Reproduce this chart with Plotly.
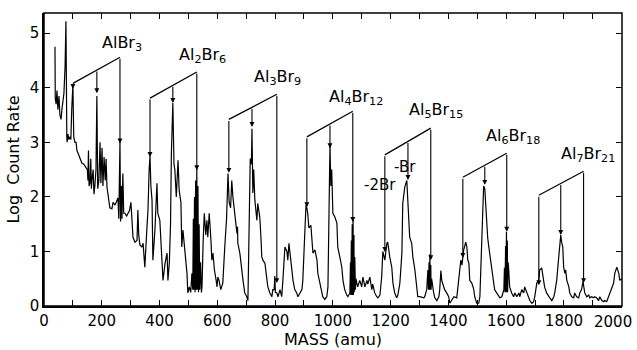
import plotly.graph_objects as go

# ---- spectrum (mass in amu, log count rate) ----
mass = [38, 39, 42, 45, 48, 52, 55, 59, 62, 69, 73, 76, 79, 80, 83, 86, 90, 93, 96, 100,
        103, 107, 111, 114, 118, 125, 131, 138, 145, 150, 152, 154, 156, 159, 162, 164, 166, 170, 173, 176,
        180, 183, 186, 190, 194, 197, 201, 204, 208, 212, 215, 218, 223, 228, 235, 239, 246, 253, 256, 259,
        261, 263, 265, 268, 270, 273, 276, 280, 286, 291, 296, 301, 305, 308, 315, 322, 325, 328, 332, 339,
        343, 349, 356, 360, 364, 367, 370, 374, 377, 384, 391, 394, 401, 408, 412, 419, 426, 429, 434, 438,
        441, 446, 450, 453, 458, 464, 468, 474, 477, 481, 488, 495, 498, 503, 508, 512, 515, 517, 519, 521,
        523, 525, 527, 529, 531, 533, 535, 537, 539, 542, 545, 547, 551, 555, 560, 564, 567, 572, 578, 581,
        585, 590, 596, 599, 602, 606, 612, 619, 626, 632, 637, 641, 646, 650, 654, 661, 668, 670, 671, 678,
        685, 689, 695, 702, 706, 710, 714, 718, 720, 723, 726, 730, 734, 737, 740, 747, 751, 754, 758, 765,
        772, 775, 782, 789, 792, 797, 799, 801, 806, 810, 817, 823, 827, 834, 841, 844, 848, 855, 858, 862,
        868, 875, 879, 886, 893, 896, 900, 903, 907, 910, 913, 917, 924, 927, 931, 938, 945, 948, 955, 962,
        965, 972, 979, 983, 986, 990, 993, 996, 1000, 1007, 1014, 1017, 1024, 1031, 1035, 1041, 1048, 1052, 1059, 1061,
        1062, 1064, 1065, 1067, 1068, 1070, 1071, 1073, 1074, 1076, 1078, 1080, 1083, 1086, 1093, 1100, 1104, 1111, 1118, 1121,
        1128, 1135, 1138, 1145, 1152, 1156, 1163, 1169, 1173, 1176, 1180, 1187, 1190, 1197, 1204, 1208, 1214, 1221, 1225, 1232,
        1239, 1242, 1249, 1256, 1259, 1266, 1273, 1277, 1284, 1291, 1294, 1301, 1315, 1318, 1325, 1329, 1331, 1333, 1334, 1336,
        1337, 1339, 1340, 1342, 1349, 1353, 1360, 1367, 1370, 1374, 1377, 1381, 1387, 1394, 1401, 1405, 1412, 1419, 1429, 1436,
        1439, 1443, 1447, 1450, 1453, 1460, 1464, 1467, 1471, 1474, 1481, 1488, 1491, 1498, 1505, 1509, 1515, 1519, 1522, 1526,
        1529, 1533, 1536, 1540, 1543, 1550, 1557, 1560, 1567, 1574, 1578, 1585, 1592, 1594, 1596, 1598, 1599, 1601, 1602, 1604,
        1605, 1607, 1609, 1612, 1619, 1626, 1630, 1637, 1644, 1647, 1654, 1661, 1664, 1671, 1678, 1682, 1689, 1695, 1699, 1706,
        1713, 1716, 1723, 1727, 1730, 1733, 1740, 1747, 1751, 1758, 1765, 1768, 1775, 1782, 1785, 1789, 1792, 1796, 1799, 1803,
        1806, 1810, 1817, 1820, 1827, 1834, 1837, 1844, 1851, 1855, 1861, 1866, 1868, 1870, 1872, 1879, 1886, 1889, 1896, 1903,
        1906, 1913, 1920, 1924, 1931, 1938, 1941, 1948, 1955, 1958, 1965, 1972, 1976, 1983, 1990, 1993, 2000]
log_rate = [4.75, 3.8, 3.7, 3.95, 3.6, 3.85, 3.5, 3.42, 3.6, 3.9, 4.4, 5.22, 3.1, 3.0, 3.15, 3.05, 3.1, 3.05, 3.6, 4.05,
            3.1, 3.0, 3.0, 2.85, 2.8, 2.68, 2.62, 2.6, 2.55, 2.5, 2.3, 2.85, 2.2, 2.25, 2.7, 2.15, 2.3, 2.5, 2.05, 2.2,
            2.5, 3.85, 2.15, 2.3, 3.0, 2.25, 2.9, 2.2, 2.73, 2.3, 2.7, 2.18, 2.0, 1.8, 1.78, 1.9, 1.85, 1.93, 1.98, 1.6,
            2.6, 3.02, 1.55, 2.2, 1.6, 2.43, 1.7, 1.7, 1.65, 1.7, 1.75, 1.9, 1.5, 1.26, 1.17, 1.2, 1.76, 1.3, 1.12, 1.08,
            1.15, 0.71, 1.4, 1.76, 2.5, 2.75, 2.2, 1.94, 0.84, 1.39, 2.25, 1.7, 1.57, 0.66, 0.47, 0.78, 0.97, 0.47, 0.8, 1.5,
            2.8, 3.72, 2.6, 2.5, 2.0, 2.67, 2.12, 1.9, 1.08, 1.39, 1.03, 0.6, 0.24, 0.35, 0.25, 0.6, 0.3, 1.6, 0.3, 2.0,
            0.25, 2.3, 0.3, 2.52, 0.3, 2.2, 0.25, 1.5, 0.3, 0.8, 0.25, 0.35, 1.2, 1.7, 1.3, 1.57, 1.26, 1.7, 1.2, 0.84,
            0.97, 0.66, 0.47, 0.35, 0.53, 0.47, 0.3, 0.42, 1.1, 1.6, 2.43, 1.9, 1.8, 2.3, 2.0, 1.7, 1.33, 1.45, 1.15, 0.97,
            0.71, 0.47, 0.24, 0.17, 0.1, 1.5, 2.7, 2.6, 3.25, 2.07, 2.5, 1.94, 1.76, 1.57, 1.88, 1.63, 1.26, 0.9, 0.84, 0.78,
            0.47, 0.35, 0.24, 0.17, 0.3, 0.3, 0.55, 0.25, 0.24, 0.17, 0.3, 0.17, 0.47, 1.08, 1.0, 0.84, 1.15, 0.78, 0.66, 0.47,
            0.3, 0.24, 0.17, 0.24, 0.3, 0.47, 0.97, 1.57, 1.85, 1.8, 1.7, 1.43, 1.48, 1.26, 0.97, 1.03, 0.84, 0.6, 0.42, 0.3,
            0.17, 0.12, 0.17, 0.35, 1.5, 2.95, 2.2, 2.5, 1.7, 1.63, 1.52, 1.08, 0.9, 0.71, 0.47, 0.3, 0.2, 0.17, 0.24, 0.8,
            0.2, 1.2, 0.2, 1.5, 0.2, 1.6, 0.2, 1.3, 0.25, 0.9, 0.3, 0.5, 0.42, 0.35, 0.47, 0.35, 0.53, 0.35, 0.47, 0.4,
            0.53, 0.3, 0.4, 0.24, 0.17, 0.15, 0.2, 0.53, 1.0, 0.9, 0.84, 1.15, 1.17, 0.9, 0.71, 0.42, 0.24, 0.15, 0.2, 0.42,
            0.97, 1.88, 2.18, 2.3, 2.0, 1.26, 1.15, 0.9, 0.66, 0.35, 0.17, 0.17, 0.15, 0.17, 0.3, 0.66, 0.3, 0.8, 0.3, 0.95,
            0.3, 0.75, 0.3, 0.5, 0.24, 0.15, 0.1, 0.17, 0.3, 0.65, 0.47, 0.4, 0.3, 0.24, 0.17, 0.05, 0.12, 0.17, 0.15, 0.47,
            0.6, 0.84, 0.75, 0.85, 1.03, 1.17, 1.08, 0.85, 0.78, 0.47, 0.42, 0.3, 0.17, 0.05, 0.05, 0.17, 1.26, 1.88, 2.2, 2.15,
            1.8, 1.39, 1.25, 1.08, 0.97, 0.66, 0.42, 0.3, 0.24, 0.17, 0.15, 0.17, 0.3, 0.7, 0.25, 1.1, 0.25, 1.36, 0.25, 1.2,
            0.25, 0.8, 0.66, 0.35, 0.24, 0.17, 0.24, 0.17, 0.24, 0.17, 0.3, 0.24, 0.35, 0.24, 0.17, 0.1, 0.05, 0.08, 0.17, 0.42,
            0.47, 0.66, 0.7, 0.55, 0.47, 0.35, 0.24, 0.17, 0.15, 0.1, 0.17, 0.24, 0.47, 0.9, 1.15, 1.3, 1.17, 1.08, 0.71, 0.6,
            0.66, 0.47, 0.35, 0.24, 0.17, 0.15, 0.24, 0.17, 0.15, 0.24, 0.3, 0.45, 0.38, 0.3, 0.24, 0.17, 0.2, 0.15, 0.17, 0.15,
            0.17, 0.15, 0.1, 0.17, 0.1, 0.08, 0.1, 0.08, 0.17, 0.24, 0.3, 0.42, 0.6, 0.71, 0.6, 0.47, 0.5]

# ---- cluster annotations ----
cluster_names = ["AlBr<sub>3</sub>", "Al<sub>2</sub>Br<sub>6</sub>", "Al<sub>3</sub>Br<sub>9</sub>",
                 "Al<sub>4</sub>Br<sub>12</sub>", "Al<sub>5</sub>Br<sub>15</sub>",
                 "Al<sub>6</sub>Br<sub>18</sub>", "Al<sub>7</sub>Br<sub>21</sub>"]
# masses of the -2Br, -Br and parent peaks
mass_m2 = [100, 367, 640, 910, 1180, 1450, 1713]
mass_m1 = [183, 446, 720, 990, 1260, 1526, 1789]
mass_m0 = [263, 529, 806, 1069, 1339, 1602, 1868]
# heights of the bracket ends
bracket_left = [4.08, 3.81, 3.42, 3.10, 2.77, 2.36, 2.03]
bracket_right = [4.56, 4.29, 3.88, 3.57, 3.26, 2.80, 2.47]
# arrow tips
tip_m2 = [3.98, 2.73, 2.44, 1.81, 0.99, 0.88, 0.38]
tip_m1 = [3.90, 3.72, 3.28, 2.89, 2.31, 2.22, 1.30]
tip_m0 = [2.98, 2.49, 0.42, 1.54, 0.84, 1.36, 0.42]
# label positions
label_mass = [270, 547, 810, 1080, 1356, 1623, 1882]
label_y = [4.82, 4.60, 4.18, 3.83, 3.59, 3.10, 2.77]

loss_labels = ["-2Br", "-Br"]
loss_mass = [1163, 1249]
loss_y = [2.22, 2.55]

x_tick_vals = list(range(0, 2001, 100))
# the last label (2000) is drawn separately so it stays inside the picture
x_tick_text = [str(v) if (v % 200 == 0 and v < 2000) else "" for v in x_tick_vals]
last_x_label = "2000"
y_tick_vals = [0, 1, 2, 3, 4, 5]

FONT = "DejaVu Sans"
X_RANGE = [0, 2001]
Y_RANGE = [0, 5.37]

fig = go.Figure()
fig.add_trace(go.Scatter(x=mass, y=log_rate, mode="lines",
                         line=dict(color="black", width=1.2), hoverinfo="skip"))
# invisible trace to carry the top and right tick axes
fig.add_trace(go.Scatter(x=[], y=[], xaxis="x2", yaxis="y2", showlegend=False))

shapes = [dict(type="rect", xref="paper", yref="paper", x0=0, y0=0, x1=1, y1=1,
               line=dict(color="black", width=1.5), layer="above")]
annotations = []
for i in range(len(cluster_names)):
    xl, xm, xr = mass_m2[i], mass_m1[i], mass_m0[i]
    yl, yr = bracket_left[i], bracket_right[i]
    ym = yl + (yr - yl) * (xm - xl) / (xr - xl)
    shapes.append(dict(type="line", xref="x", yref="y", x0=xl, y0=yl, x1=xr, y1=yr,
                       line=dict(color="black", width=1.2)))
    for xx, top, tip in [(xl, yl, tip_m2[i]), (xm, ym, tip_m1[i]), (xr, yr, tip_m0[i])]:
        annotations.append(dict(x=xx, y=tip, ax=xx, ay=top, xref="x", yref="y",
                                axref="x", ayref="y", text="", showarrow=True,
                                arrowhead=2, arrowsize=0.9, arrowwidth=1.1,
                                arrowcolor="black", standoff=0))
    annotations.append(dict(x=label_mass[i], y=label_y[i], xref="x", yref="y",
                            text=cluster_names[i], showarrow=False,
                            font=dict(family=FONT, size=16, color="black")))
for t, xx, yy in zip(loss_labels, loss_mass, loss_y):
    annotations.append(dict(x=xx, y=yy, xref="x", yref="y", text=t, showarrow=False,
                            font=dict(family=FONT, size=15, color="black")))
annotations.append(dict(x=x_tick_vals[-1], y=0, xref="x", yref="paper", text=last_x_label,
                        showarrow=False, xanchor="right", yanchor="middle",
                        xshift=11, yshift=-16, borderpad=0,
                        font=dict(family=FONT, size=15, color="black")))

tick_style = dict(ticks="inside", ticklen=6, tickwidth=1.2, tickcolor="black",
                  showgrid=False, zeroline=False, automargin=False)

fig.update_layout(
    width=637, height=350,
    margin=dict(l=44, r=15, t=13, b=44, autoexpand=False),
    paper_bgcolor="white", plot_bgcolor="white",
    showlegend=False,
    shapes=shapes, annotations=annotations,
    font=dict(family=FONT, size=15, color="black"),
    xaxis=dict(range=X_RANGE, tickvals=x_tick_vals, ticktext=x_tick_text,
               showline=True, linecolor="black", linewidth=2,
               title=dict(text="MASS (amu)", standoff=2, font=dict(size=16)),
               tickfont=dict(size=15), **tick_style),
    yaxis=dict(range=Y_RANGE, tickvals=y_tick_vals,
               showline=True, linecolor="black", linewidth=1.5,
               title=dict(text="Log  Count Rate", standoff=6, font=dict(size=16)),
               tickfont=dict(size=15), **tick_style),
    xaxis2=dict(range=X_RANGE, tickvals=x_tick_vals, showticklabels=False,
                overlaying="x", side="top", **tick_style),
    yaxis2=dict(range=Y_RANGE, tickvals=y_tick_vals, showticklabels=False,
                overlaying="y", side="right", **tick_style),
)

fig.write_html("out.html", config={"displayModeBar": False},
               post_script="document.body.style.margin='0';document.body.style.overflow='hidden';")
